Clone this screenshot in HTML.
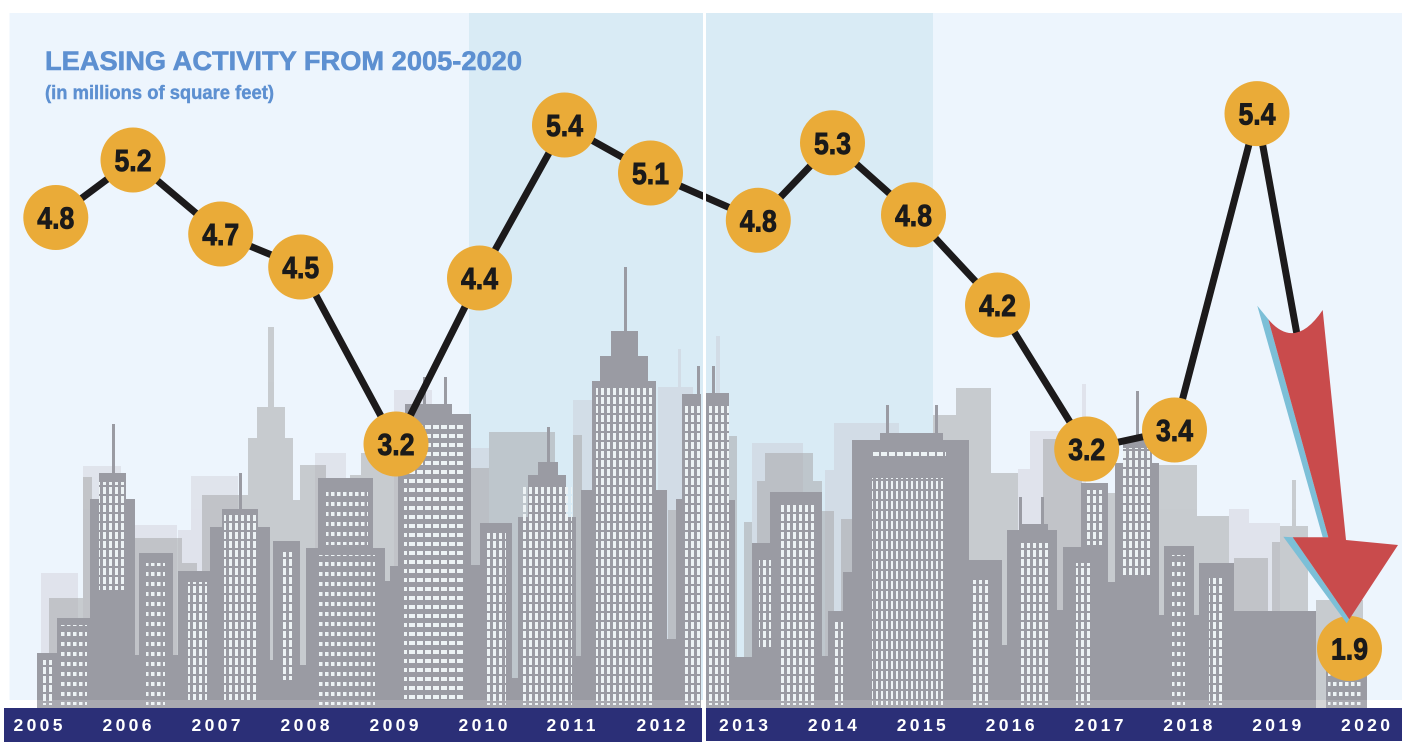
<!DOCTYPE html>
<html><head><meta charset="utf-8"><style>
html,body{margin:0;padding:0;background:#fff;}
svg{display:block;}
text{font-family:"Liberation Sans",Arial,sans-serif;font-weight:bold;}
</style></head><body>
<svg width="1413" height="752" viewBox="0 0 1413 752" xmlns="http://www.w3.org/2000/svg">
<defs>
<pattern id="pA" width="6" height="9" patternUnits="userSpaceOnUse"><rect x="1" y="1" width="3" height="7" fill="#edf3f5"/></pattern>
<pattern id="pB" width="6" height="10" patternUnits="userSpaceOnUse"><rect x="1" y="2" width="3.5" height="4" fill="#edf3f5"/></pattern>
<pattern id="pC" width="8" height="9" patternUnits="userSpaceOnUse"><rect x="1" y="2" width="6" height="4" fill="#edf3f5"/></pattern>
<pattern id="pD" width="5" height="10" patternUnits="userSpaceOnUse"><rect x="1" y="1" width="2" height="8" fill="#edf3f5"/></pattern>
</defs>
<rect x="0" y="0" width="1413" height="752" fill="#fff"/>
<rect x="9.5" y="13" width="1392.5" height="687" fill="#edf5fd"/>
<rect x="469" y="13" width="464" height="687" fill="#d9ebf5"/>

<g opacity="0.3" fill="rgb(195,188,198)">
<rect x="41" y="573" width="37" height="135"/>
<rect x="83" y="466" width="38" height="242"/>
<rect x="135" y="525" width="42" height="183"/>
<rect x="178" y="530" width="19" height="178"/>
<rect x="191" y="476" width="47" height="232"/>
<rect x="315" y="453" width="31" height="255"/>
<rect x="394" y="390" width="38" height="318"/>
<rect x="471" y="448" width="18" height="260"/>
<rect x="573" y="400" width="19" height="308"/>
<rect x="678" y="349" width="3" height="359"/>
<rect x="658" y="387" width="35" height="321"/>
<rect x="716" y="336" width="4" height="372"/>
<rect x="752" y="443" width="51" height="265"/>
<rect x="825" y="470" width="9" height="238"/>
<rect x="834" y="423" width="65" height="285"/>
<rect x="1018" y="469" width="12" height="239"/>
<rect x="1030" y="431" width="52" height="277"/>
<rect x="1082" y="384" width="4" height="324"/>
<rect x="1229" y="509" width="20" height="199"/>
<rect x="1249" y="523" width="31" height="185"/>
</g>
<g opacity="0.55" fill="rgb(169,169,171)">
<rect x="49" y="598" width="37" height="110"/>
<rect x="83" y="477" width="9" height="231"/>
<rect x="135" y="538" width="47" height="170"/>
<rect x="180" y="563" width="17" height="145"/>
<rect x="202" y="495" width="46" height="213"/>
<rect x="248" y="438" width="45" height="270"/>
<rect x="257" y="407" width="28" height="301"/>
<rect x="268" y="327" width="6" height="381"/>
<rect x="293" y="500" width="7" height="208"/>
<rect x="300" y="465" width="26" height="243"/>
<rect x="350" y="475" width="11" height="233"/>
<rect x="361" y="453" width="39" height="255"/>
<rect x="489" y="432" width="66" height="276"/>
<rect x="471" y="468" width="18" height="240"/>
<rect x="573" y="435" width="9" height="273"/>
<rect x="668" y="510" width="9" height="198"/>
<rect x="729" y="436" width="8" height="272"/>
<rect x="744" y="522" width="8" height="186"/>
<rect x="765" y="453" width="48" height="255"/>
<rect x="757" y="481" width="65" height="227"/>
<rect x="822" y="511" width="12" height="197"/>
<rect x="841" y="519" width="12" height="189"/>
<rect x="933" y="415" width="23" height="293"/>
<rect x="956" y="388" width="35" height="320"/>
<rect x="991" y="473" width="27" height="235"/>
<rect x="1043" y="439" width="39" height="269"/>
<rect x="1107" y="493" width="8" height="215"/>
<rect x="1159" y="465" width="38" height="243"/>
<rect x="1197" y="516" width="32" height="192"/>
<rect x="1234" y="558" width="34" height="150"/>
<rect x="1272" y="542" width="36" height="166"/>
<rect x="1280" y="526" width="28" height="182"/>
<rect x="1292" y="480" width="4" height="228"/>
<rect x="1316" y="600" width="47" height="108"/>
</g>
<g fill="#9a9ba3">
<rect x="37" y="653" width="20" height="55"/>
<rect x="57" y="618" width="33" height="90"/>
<rect x="90" y="499" width="45" height="209"/>
<rect x="99" y="473" width="27" height="235"/>
<rect x="112" y="424" width="3" height="284"/>
<rect x="135" y="655" width="4" height="53"/>
<rect x="139" y="553" width="34" height="155"/>
<rect x="173" y="655" width="5" height="53"/>
<rect x="178" y="571" width="32" height="137"/>
<rect x="210" y="527" width="60" height="181"/>
<rect x="222" y="509" width="36" height="199"/>
<rect x="239" y="473" width="3" height="235"/>
<rect x="268" y="660" width="7" height="48"/>
<rect x="273" y="541" width="27" height="167"/>
<rect x="300" y="665" width="6" height="43"/>
<rect x="306" y="548" width="79" height="160"/>
<rect x="318" y="478" width="55" height="230"/>
<rect x="385" y="581" width="5" height="127"/>
<rect x="390" y="566" width="8" height="142"/>
<rect x="398" y="414" width="73" height="294"/>
<rect x="405" y="404" width="47" height="304"/>
<rect x="423" y="377" width="3" height="331"/>
<rect x="444" y="377" width="3" height="331"/>
<rect x="471" y="565" width="9" height="143"/>
<rect x="480" y="523" width="32" height="185"/>
<rect x="512" y="678" width="6" height="30"/>
<rect x="518" y="517" width="58" height="191"/>
<rect x="528" y="475" width="38" height="233"/>
<rect x="538" y="462" width="20" height="246"/>
<rect x="547" y="427" width="3" height="281"/>
<rect x="576" y="656" width="5" height="52"/>
<rect x="581" y="490" width="86" height="218"/>
<rect x="592" y="381" width="64" height="327"/>
<rect x="600" y="356" width="48" height="352"/>
<rect x="611" y="331" width="27" height="377"/>
<rect x="624" y="267" width="3" height="441"/>
<rect x="667" y="639" width="9" height="69"/>
<rect x="676" y="499" width="25" height="209"/>
<rect x="682" y="394" width="19" height="314"/>
<rect x="697" y="366" width="3" height="342"/>
<rect x="706" y="393" width="23" height="315"/>
<rect x="729" y="500" width="6" height="208"/>
<rect x="712" y="366" width="3" height="342"/>
<rect x="735" y="657" width="17" height="51"/>
<rect x="752" y="543" width="18" height="165"/>
<rect x="770" y="492" width="52" height="216"/>
<rect x="822" y="656" width="6" height="52"/>
<rect x="828" y="611" width="15" height="97"/>
<rect x="843" y="572" width="9" height="136"/>
<rect x="852" y="440" width="117" height="268"/>
<rect x="880" y="433" width="63" height="275"/>
<rect x="886" y="405" width="3" height="303"/>
<rect x="935" y="405" width="3" height="303"/>
<rect x="969" y="560" width="33" height="148"/>
<rect x="1002" y="645" width="5" height="63"/>
<rect x="1007" y="530" width="50" height="178"/>
<rect x="1020" y="524" width="28" height="184"/>
<rect x="1019" y="497" width="3" height="211"/>
<rect x="1041" y="497" width="3" height="211"/>
<rect x="1057" y="610" width="6" height="98"/>
<rect x="1063" y="547" width="18" height="161"/>
<rect x="1081" y="483" width="27" height="225"/>
<rect x="1108" y="582" width="7" height="126"/>
<rect x="1115" y="463" width="44" height="245"/>
<rect x="1123" y="438" width="29" height="270"/>
<rect x="1136" y="391" width="3" height="317"/>
<rect x="1159" y="615" width="5" height="93"/>
<rect x="1164" y="546" width="30" height="162"/>
<rect x="1194" y="615" width="5" height="93"/>
<rect x="1199" y="563" width="35" height="145"/>
<rect x="1234" y="611" width="82" height="97"/>
<rect x="1326" y="655" width="41" height="53"/>
</g>
<rect x="40" y="660" width="14" height="45" fill="url(#pA)"/>
<rect x="60" y="625" width="27" height="80" fill="url(#pB)"/>
<rect x="99" y="482" width="28" height="108" fill="url(#pA)"/>
<rect x="146" y="563" width="19" height="142" fill="url(#pB)"/>
<rect x="188" y="582" width="19" height="118" fill="url(#pA)"/>
<rect x="224" y="515" width="32" height="185" fill="url(#pA)"/>
<rect x="281" y="552" width="13" height="128" fill="url(#pA)"/>
<rect x="326" y="490" width="42" height="55" fill="url(#pB)"/>
<rect x="318" y="555" width="57" height="150" fill="url(#pB)"/>
<rect x="404" y="424" width="61" height="276" fill="url(#pC)"/>
<rect x="486" y="533" width="20" height="172" fill="url(#pA)"/>
<rect x="522" y="485" width="50" height="220" fill="url(#pA)"/>
<rect x="596" y="388" width="56" height="317" fill="url(#pA)"/>
<rect x="683" y="405" width="18" height="300" fill="url(#pA)"/>
<rect x="707" y="405" width="22" height="300" fill="url(#pA)"/>
<rect x="759" y="560" width="12" height="87" fill="url(#pA)"/>
<rect x="779" y="505" width="37" height="200" fill="url(#pA)"/>
<rect x="833" y="620" width="10" height="85" fill="url(#pA)"/>
<rect x="872" y="452" width="74" height="9" fill="url(#pC)"/>
<rect x="872" y="478" width="74" height="227" fill="url(#pD)"/>
<rect x="970" y="580" width="18" height="125" fill="url(#pA)"/>
<rect x="1020" y="543" width="28" height="162" fill="url(#pA)"/>
<rect x="1076" y="563" width="16" height="142" fill="url(#pA)"/>
<rect x="1084" y="490" width="18" height="55" fill="url(#pA)"/>
<rect x="1121" y="448" width="32" height="127" fill="url(#pA)"/>
<rect x="1172" y="555" width="13" height="150" fill="url(#pB)"/>
<rect x="1209" y="578" width="16" height="127" fill="url(#pA)"/>
<rect x="1328" y="660" width="34" height="45" fill="url(#pB)"/>
<rect x="30" y="700" width="1340" height="8" fill="#fff" opacity="0.15"/>

<rect x="4" y="708" width="698" height="34" fill="#2b2f77"/>
<rect x="706" y="708" width="696" height="33" fill="#2b2f77"/>
<g fill="#fff" font-size="17.5" text-anchor="middle">
<text x="38" y="731" textLength="49" lengthAdjust="spacing">2005</text>
<text x="127" y="731" textLength="49" lengthAdjust="spacing">2006</text>
<text x="216" y="731" textLength="49" lengthAdjust="spacing">2007</text>
<text x="305" y="731" textLength="49" lengthAdjust="spacing">2008</text>
<text x="394" y="731" textLength="49" lengthAdjust="spacing">2009</text>
<text x="483" y="731" textLength="49" lengthAdjust="spacing">2010</text>
<text x="571" y="731" textLength="49" lengthAdjust="spacing">2011</text>
<text x="661" y="731" textLength="49" lengthAdjust="spacing">2012</text>
<text x="743.5" y="731" textLength="49" lengthAdjust="spacing">2013</text>
<text x="832.4" y="731" textLength="49" lengthAdjust="spacing">2014</text>
<text x="921.2" y="731" textLength="49" lengthAdjust="spacing">2015</text>
<text x="1010.1" y="731" textLength="49" lengthAdjust="spacing">2016</text>
<text x="1099" y="731" textLength="49" lengthAdjust="spacing">2017</text>
<text x="1187.8" y="731" textLength="49" lengthAdjust="spacing">2018</text>
<text x="1276.7" y="731" textLength="49" lengthAdjust="spacing">2019</text>
<text x="1365.5" y="731" textLength="49" lengthAdjust="spacing">2020</text>
</g>

<text x="45" y="70" font-size="27" fill="#5d90d1" stroke="#5d90d1" stroke-width="0.6" textLength="477" lengthAdjust="spacingAndGlyphs">LEASING ACTIVITY FROM 2005-2020</text>
<text x="45" y="99" font-size="19" fill="#5d90d1" stroke="#5d90d1" stroke-width="0.4" textLength="229" lengthAdjust="spacingAndGlyphs">(in millions of square feet)</text>

<polyline fill="none" stroke="#1c1a1b" stroke-width="7" stroke-linejoin="round" points="55.8,217.5 133,160 220.7,234 300.7,267 396,444 479.5,278 564.5,125 650.5,173 758.3,220.3 832.5,142.8 913.5,214.8 997.5,305 1086.7,449 1174.5,430 1257,113.6 1298,340"/>

<rect x="703" y="13" width="3" height="730" fill="#fff"/>

<g fill="#eaab38">
<circle cx="55.8" cy="217.5" r="32.5"/>
<circle cx="133" cy="160" r="32.5"/>
<circle cx="220.7" cy="234" r="32.5"/>
<circle cx="300.7" cy="267" r="32.5"/>
<circle cx="396" cy="444" r="32.5"/>
<circle cx="479.5" cy="278" r="32.5"/>
<circle cx="564.5" cy="125" r="32.5"/>
<circle cx="650.5" cy="173" r="32.5"/>
<circle cx="758.3" cy="220.3" r="32.5"/>
<circle cx="832.5" cy="142.8" r="32.5"/>
<circle cx="913.5" cy="214.8" r="32.5"/>
<circle cx="997.5" cy="305" r="32.5"/>
<circle cx="1086.7" cy="449" r="32.5"/>
<circle cx="1174.5" cy="430" r="32.5"/>
<circle cx="1257" cy="113.6" r="32.5"/>
<circle cx="1349.5" cy="648.5" r="32.5"/>
</g>
<g fill="#1b1a1a" stroke="#1b1a1a" stroke-width="0.9" font-size="31" text-anchor="middle">
<text x="55.8" y="228.5" textLength="37" lengthAdjust="spacingAndGlyphs">4.8</text>
<text x="133" y="171" textLength="37" lengthAdjust="spacingAndGlyphs">5.2</text>
<text x="220.7" y="245" textLength="37" lengthAdjust="spacingAndGlyphs">4.7</text>
<text x="300.7" y="278" textLength="37" lengthAdjust="spacingAndGlyphs">4.5</text>
<text x="396" y="455" textLength="37" lengthAdjust="spacingAndGlyphs">3.2</text>
<text x="479.5" y="289" textLength="37" lengthAdjust="spacingAndGlyphs">4.4</text>
<text x="564.5" y="136" textLength="37" lengthAdjust="spacingAndGlyphs">5.4</text>
<text x="650.5" y="184" textLength="37" lengthAdjust="spacingAndGlyphs">5.1</text>
<text x="758.3" y="231.3" textLength="37" lengthAdjust="spacingAndGlyphs">4.8</text>
<text x="832.5" y="153.8" textLength="37" lengthAdjust="spacingAndGlyphs">5.3</text>
<text x="913.5" y="225.8" textLength="37" lengthAdjust="spacingAndGlyphs">4.8</text>
<text x="997.5" y="316" textLength="37" lengthAdjust="spacingAndGlyphs">4.2</text>
<text x="1086.7" y="460" textLength="37" lengthAdjust="spacingAndGlyphs">3.2</text>
<text x="1174.5" y="441" textLength="37" lengthAdjust="spacingAndGlyphs">3.4</text>
<text x="1257" y="124.6" textLength="37" lengthAdjust="spacingAndGlyphs">5.4</text>
<text x="1349.5" y="659.5" textLength="37" lengthAdjust="spacingAndGlyphs">1.9</text>
</g>

<polygon points="1257.3,305.7 1268.3,319.3 1328.3,537.3 1322.7,537.3" fill="#7cbfd7"/>
<polygon points="1283.3,536.7 1292.7,537.3 1349.3,619.3 1346.7,623.3" fill="#7cbfd7"/>
<path d="M1268.3,319.3 Q1295,351 1322.7,310 L1346,540 L1398,545 L1349.3,619.3 L1292.7,537.3 L1328.3,537.3 Z" fill="#c94b4c"/>
</svg>
</body></html>
